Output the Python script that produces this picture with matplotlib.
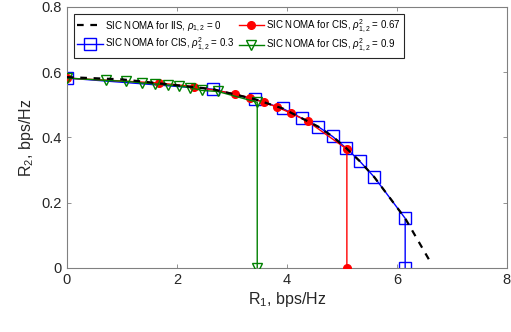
import matplotlib
matplotlib.use("Agg")
import matplotlib.pyplot as plt

plt.rcParams['font.family'] = ['Liberation Sans', 'DejaVu Sans']
plt.rcParams['mathtext.fontset'] = 'custom'
plt.rcParams['mathtext.rm'] = 'Liberation Sans'
plt.rcParams['mathtext.it'] = 'Liberation Sans:italic'

# Black dashed: SIC NOMA for IIS
iis_r1 = [0.0, 1.0, 2.0, 2.65, 3.42, 3.92, 4.27, 4.57, 4.83, 5.08, 5.32, 5.59, 6.15, 6.63]
iis_r2 = [0.585, 0.578, 0.560, 0.548, 0.517, 0.489, 0.459, 0.433, 0.403, 0.367, 0.328, 0.278, 0.152, 0.012]

# Blue squares: rho^2 = 0.3
b_r1 = [0.0, 2.65, 3.42, 3.92, 4.27, 4.57, 4.83, 5.08, 5.32, 5.59, 6.15, 6.15]
b_r2 = [0.582, 0.548, 0.517, 0.489, 0.459, 0.433, 0.403, 0.367, 0.328, 0.278, 0.152, 0.0]

# Red circles: rho^2 = 0.67
r_r1 = [0.0, 1.67, 2.31, 3.05, 3.32, 3.58, 3.82, 4.08, 4.38, 5.09, 5.09]
r_r2 = [0.582, 0.567, 0.556, 0.534, 0.521, 0.508, 0.493, 0.474, 0.449, 0.364, 0.0]

# Green triangles: rho^2 = 0.9
g_r1 = [0.0, 0.71, 1.08, 1.37, 1.61, 1.83, 2.03, 2.23, 2.46, 2.74, 3.46, 3.46]
g_r2 = [0.582, 0.575, 0.572, 0.567, 0.564, 0.561, 0.558, 0.553, 0.544, 0.541, 0.508, 0.0]

fig = plt.figure(figsize=(5.11, 3.32), dpi=100)
ax = fig.add_axes([0.131, 0.193, 0.861, 0.786])

hb, = ax.plot(b_r1, b_r2, '-', color='blue', lw=1, marker='s', ms=8,
              mfc='none', mec='blue', mew=1, label=r'SIC NOMA for CIS, $\rho^2_{1,2}$ = 0.3', zorder=2)
hr, = ax.plot(r_r1, r_r2, '-', color='red', lw=1, marker='o', ms=5.5,
              mfc='red', mec='red', label=r'SIC NOMA for CIS, $\rho^2_{1,2}$ = 0.67', zorder=3)
hg, = ax.plot(g_r1, g_r2, '-', color='green', lw=1, marker='v', ms=7,
              mfc='none', mec='green', mew=1, label=r'SIC NOMA for CIS, $\rho^2_{1,2}$ = 0.9', zorder=4)
hk, = ax.plot(iis_r1, iis_r2, '--', color='black', lw=1.6, dashes=(3, 3),
              label=r'SIC NOMA for IIS, $\rho_{1,2}$ = 0', zorder=5)

ax.set_xlim(0, 8)
ax.set_ylim(0, 0.8)
ax.set_xticks([0, 2, 4, 6, 8])
ax.set_yticks([0, 0.2, 0.4, 0.6, 0.8])
ax.set_yticklabels(['0', '0.2', '0.4', '0.6', '0.8'])
ax.tick_params(direction='in', top=True, right=True, labelsize=10.5, colors='#262626',
               length=3, width=0.6)
for s in ax.spines.values():
    s.set_color('#808080')
    s.set_linewidth(0.8)
ax.tick_params(axis='both', color='#808080')

ax.set_xlabel(r'R$_1$, bps/Hz', fontsize=11.5, color='#262626', labelpad=2)
ax.set_ylabel(r'R$_2$, bps/Hz', fontsize=11.5, color='#262626', labelpad=4)

leg = ax.legend(handles=[hk, hb, hr, hg], loc='upper left', ncol=2, fontsize=7.0,
                frameon=True, fancybox=False, edgecolor='#262626', framealpha=1,
                handlelength=2.6, handletextpad=0.2, columnspacing=0.5,
                borderpad=0.35, labelspacing=0.25, borderaxespad=0,
                bbox_to_anchor=(0.016, 0.973))
leg.get_frame().set_linewidth(0.8)

fig.savefig('out.png', dpi=100)
